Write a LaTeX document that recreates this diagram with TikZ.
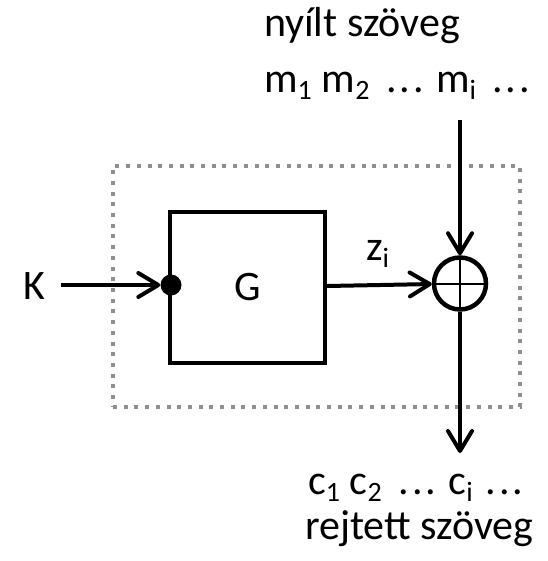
\documentclass[tikz,border=0pt]{standalone}
\usepackage{fontspec}
\setmainfont{Carlito}
\usetikzlibrary{arrows.meta}
\definecolor{framegray}{HTML}{8F8F8F}
\newcommand\sbs[1]{\raisebox{-7pt}{\fontsize{28}{28}\selectfont #1}}
\newcommand\ddd{.\kern2.9pt.\kern2.9pt.}
\begin{document}
\begin{tikzpicture}[x=1pt,y=-1pt,
  txt/.style={inner sep=0pt,outer sep=0pt,anchor=base west,font=\fontsize{42}{50}\selectfont},
  arr/.style={line width=4pt,-{Straight Barb[length=20pt,width=24pt,round]}},
  gbox/.style={draw,line width=4pt,rectangle,minimum width=155pt,minimum height=151pt,inner sep=0pt,font=\fontsize{42}{50}\selectfont},
  xorc/.style={draw,circle,line width=4.5pt,minimum size=52pt,inner sep=0pt,
    path picture={\draw[line width=2pt] (path picture bounding box.north) -- (path picture bounding box.south)
      (path picture bounding box.west) -- (path picture bounding box.east);}},
  dotc/.style={fill,circle,minimum size=21pt,inner sep=0pt},
  framebox/.style={draw=framegray,line width=4pt,dash pattern=on 4pt off 6.7pt,rectangle,inner sep=0pt,minimum width=407pt,minimum height=241pt}
]
\useasboundingbox (0,0) rectangle (547,561);
\node[framebox] (frame) at (316.5,286.5) {};
\node[gbox] (G) at (247.5,287.5) {G};
\node[xorc] (xor) at (460,283.5) {};
\node[dotc] (dot) at (171,285) {};
\node[txt] (K) at (23,299) {K};
\node[txt] (z) at (366,260) {z\sbs{i}};
\node[txt] (title1) at (264,37) {nyílt szöveg};
\node[txt] (mseq) at (264,93) {m\sbs{1}\hspace{10pt}m\sbs{2}\hspace{17pt}\ddd\hspace{12pt}m\sbs{i}\hspace{16pt}\ddd};
\node[txt] (cseq) at (308,494) {c\sbs{1}\hspace{10pt}c\sbs{2}\hspace{17pt}\ddd\hspace{12pt}c\sbs{i}\hspace{13pt}\ddd};
\node[txt] (title2) at (305,539) {rejtett szöveg};
\coordinate (kin) at (61,285);
\coordinate (min) at (460,120);
\coordinate (cout) at (460,453);
\draw[arr] (kin) -- (dot);
\draw[arr] (G) -- (xor);
\draw[arr] (min) -- (xor);
\draw[arr] (xor) -- (cout);
\end{tikzpicture}
\end{document}
